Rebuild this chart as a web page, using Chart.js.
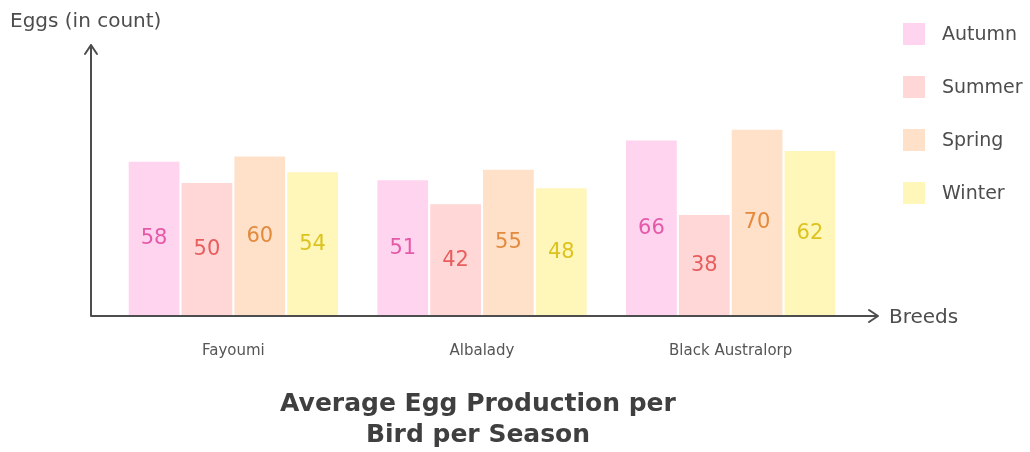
<!DOCTYPE html>
<html>
<head>
<meta charset="utf-8">
<script src="https://cdn.jsdelivr.net/npm/chart.js@4"></script>
<style>
  html, body { margin: 0; padding: 0; background: #fff; }
  #wrap { width: 1030px; height: 452px; position: relative; }
</style>
</head>
<body>
<div id="wrap"><canvas id="c"></canvas></div>
<script>
const categories = ["Fayoumi", "Albalady", "Black Australorp"];
const seriesNames = ["Autumn", "Summer", "Spring", "Winter"];
const autumn = [58, 51, 66];
const summer = [50, 42, 38];
const spring = [60, 55, 70];
const winter = [54, 48, 62];
const fills = ["#ffd4ee", "#ffd7d7", "#ffe1ca", "#fff6b9"];
const labelColors = ["#e45aa8", "#e85d5d", "#e38a3c", "#dcc31f"];
const FONT = "'DejaVu Sans', sans-serif";
const INK = "#4d4d4d";

const values = [autumn, summer, spring, winter];

const decor = {
  id: "decor",
  afterDatasetsDraw(chart) {
    const ctx = chart.ctx;
    const ca = chart.chartArea;
    chart.data.datasets.forEach((ds, i) => {
      const meta = chart.getDatasetMeta(i);
      meta.data.forEach((bar, j) => {
        ctx.save();
        ctx.font = "21px " + FONT;
        ctx.fillStyle = labelColors[i];
        ctx.textAlign = "center";
        ctx.textBaseline = "middle";
        ctx.fillText(String(ds.data[j]), bar.x, (bar.y + bar.base) / 2);
        ctx.restore();
      });
    });
    const y0 = chart.scales.y.getPixelForValue(0);
    const ax = ca.left - 18;
    const yTop = ca.top - 5;
    const xEnd = ca.right + 23;
    ctx.save();
    ctx.strokeStyle = INK;
    ctx.lineWidth = 2;
    ctx.lineCap = "round";
    ctx.lineJoin = "round";
    ctx.beginPath();
    ctx.moveTo(ax, y0); ctx.lineTo(ax, yTop);
    ctx.moveTo(ax - 6, yTop + 9); ctx.lineTo(ax, yTop); ctx.lineTo(ax + 6, yTop + 9);
    ctx.moveTo(ax, y0); ctx.lineTo(xEnd, y0);
    ctx.moveTo(xEnd - 9, y0 - 6); ctx.lineTo(xEnd, y0); ctx.lineTo(xEnd - 9, y0 + 6);
    ctx.stroke();
    ctx.fillStyle = INK;
    ctx.font = "20px " + FONT;
    ctx.textBaseline = "middle";
    ctx.textAlign = "left";
    ctx.fillText("Eggs (in count)", 10, 22);
    ctx.fillText("Breeds", xEnd + 11, y0 + 2);
    chart.data.datasets.forEach((ds, i) => {
      const top = 23 + i * 53;
      ctx.fillStyle = ds.backgroundColor;
      ctx.fillRect(903, top, 22, 22);
      ctx.fillStyle = INK;
      ctx.font = "19px " + FONT;
      ctx.textAlign = "left";
      ctx.fillText(ds.label, 942, top + 12);
    });
    ctx.font = "bold 25px " + FONT;
    ctx.textAlign = "center";
    ctx.fillStyle = "#3f3f3f";
    ctx.fillText("Average Egg Production per", 478, 404);
    ctx.fillText("Bird per Season", 478, 435);
    ctx.restore();
  }
};

new Chart(document.getElementById("c"), {
  type: "bar",
  data: {
    labels: categories,
    datasets: seriesNames.map((n, i) => ({
      label: n,
      data: values[i],
      backgroundColor: fills[i],
      borderWidth: 0,
      categoryPercentage: 0.85,
      barPercentage: 0.96
    }))
  },
  options: {
    responsive: true,
    maintainAspectRatio: false,
    animation: false,
    layout: { padding: { left: 109, right: 175, top: 50, bottom: 74 } },
    plugins: { legend: { display: false }, title: { display: false }, tooltip: { enabled: false } },
    scales: {
      x: {
        grid: { display: false },
        border: { display: false },
        ticks: { color: "#555", font: { family: FONT, size: 15 }, padding: 18 }
      },
      y: { display: false, min: 0, max: 100 }
    }
  },
  plugins: [decor]
});
</script>
</body>
</html>
